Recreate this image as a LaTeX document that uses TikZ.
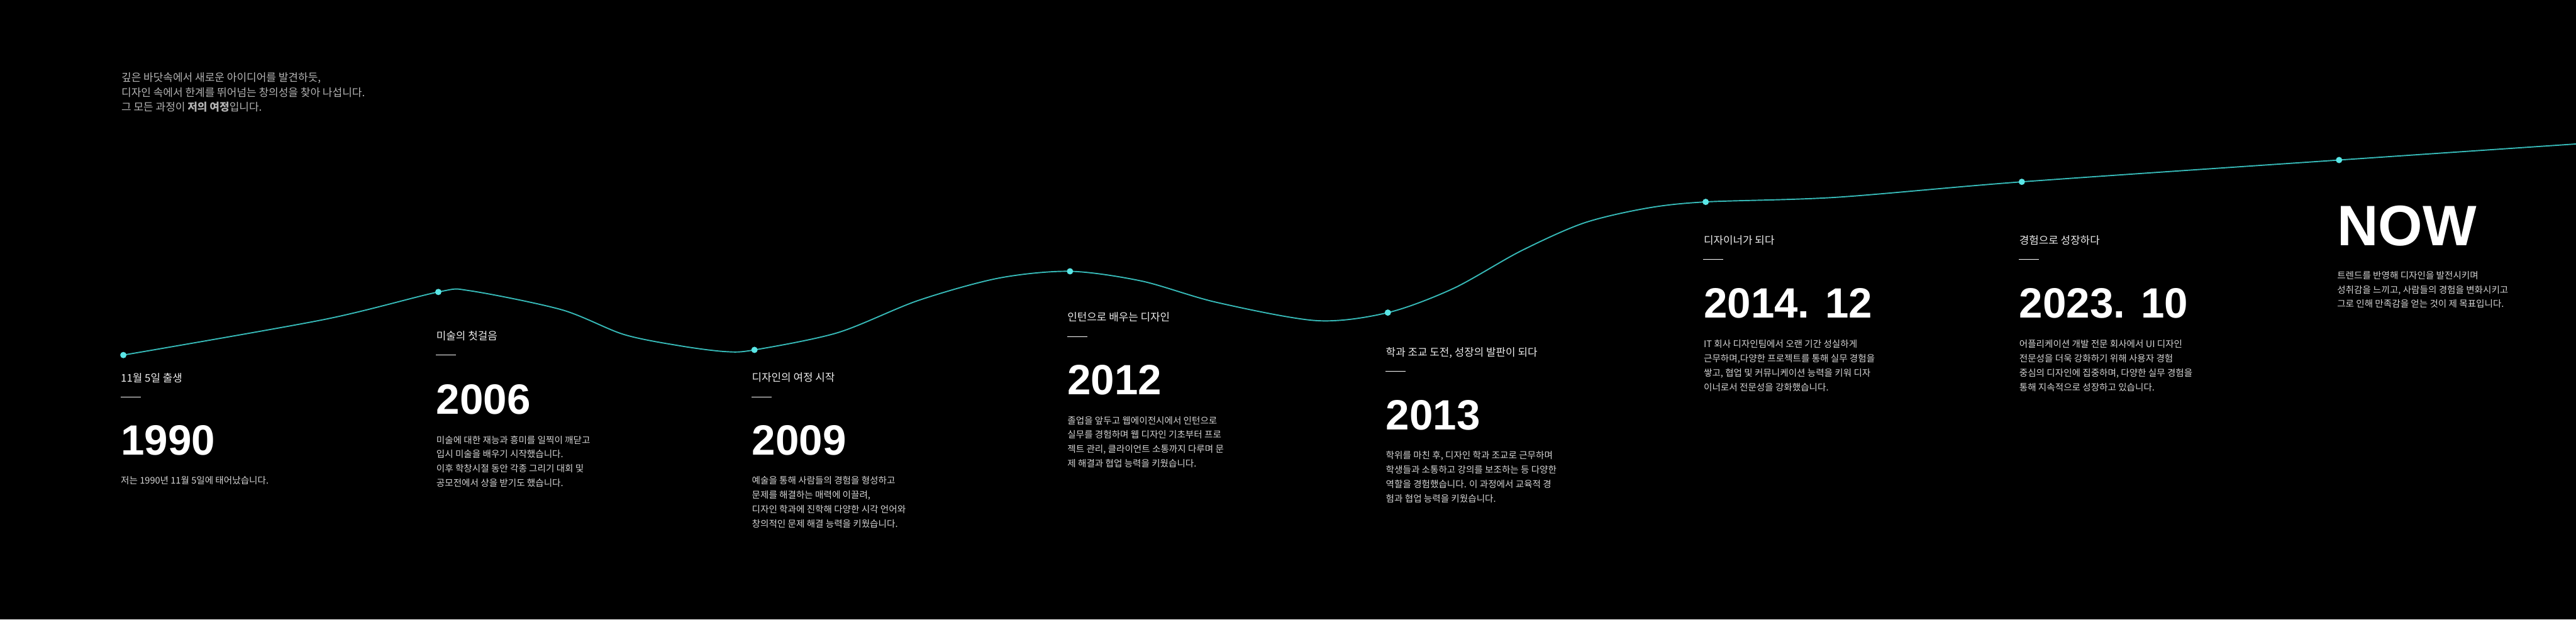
\documentclass[tikz,border=0pt]{standalone}
\usepackage{fontspec}
\setmainfont{Noto Sans CJK KR}
\newfontfamily\yearfamily{Liberation Sans}
\usepackage{tikz}
\definecolor{NightBlack}{HTML}{000000}
\definecolor{TrailTeal}{HTML}{36B8B6}
\definecolor{PinCyan}{HTML}{5AE6E6}
\definecolor{HeadGray}{HTML}{B4B4B4}
\definecolor{StoryGray}{HTML}{D6D6D6}
\definecolor{CaptionWhite}{HTML}{EDEDED}

\begin{document}
\begin{tikzpicture}[
  milestone/.style={
    circle,
    fill=PinCyan,
    inner sep=0pt,
    minimum size=0.11cm
  },
  intro/.style={
    anchor=base west,
    inner sep=0pt,
    align=left,
    text=HeadGray,
    font=\fontsize{5.3}{7.4}\selectfont
  },
  caption/.style={
    anchor=base west,
    inner sep=0pt,
    text=CaptionWhite,
    font=\fontsize{5.26}{6.5}\selectfont
  },
  year/.style={
    anchor=base west,
    inner sep=0pt,
    text=white,
    font=\fontsize{21}{25}\yearfamily\bfseries
  },
  bignow/.style={year,font=\fontsize{28.3}{34}\yearfamily\bfseries},
  story/.style={
    anchor=base west,
    inner sep=0pt,
    align=left,
    text=StoryGray,
    font=\fontsize{4.55}{7.11}\selectfont
  },
  tickline/.style={draw=white,line width=0.4pt},
  trail/.style={draw=TrailTeal,line width=0.6pt}
]

\fill[NightBlack] (0,0) rectangle (44.90,10.80);
\useasboundingbox (0,0) rectangle (44.90,10.80);

\coordinate (p1990) at (2.15,4.61);
\coordinate (p2006) at (7.64,5.71);
\coordinate (p2009) at (13.15,4.70);
\coordinate (p2012) at (18.65,6.07);
\coordinate (p2013) at (24.19,5.35);
\coordinate (p2014) at (29.73,7.28);
\coordinate (p2023) at (35.24,7.63);
\coordinate (pnow) at (40.77,8.01);
\coordinate (tailend) at (44.90,8.29);

\draw[trail] plot[smooth,tension=0.5] coordinates {
  (p1990) (5.65,5.23) (p2006) (8.20,5.73) (9.79,5.40)
  (10.87,4.97) (11.86,4.77) (12.65,4.67) (p2009)
  (14.60,5.00) (16.00,5.56) (17.40,5.95) (p2012)
  (19.90,5.90) (21.20,5.53) (22.95,5.21) (p2013)
  (25.33,5.77) (26.50,6.42) (27.60,6.91) (28.70,7.17) (p2014)
  (32.00,7.36) (p2023) (pnow) (tailend)
};

\node[milestone] (m1990) at (p1990) {};
\node[milestone] (m2006) at (p2006) {};
\node[milestone] (m2009) at (p2009) {};
\node[milestone] (m2012) at (p2012) {};
\node[milestone] (m2013) at (p2013) {};
\node[milestone] (m2014) at (p2014) {};
\node[milestone] (m2023) at (p2023) {};
\node[milestone] (mnow) at (pnow) {};

\node[intro] (intro) at (2.11,8.86)
  {깊은 바닷속에서 새로운 아이디어를 발견하듯,\\
   디자인 속에서 한계를 뛰어넘는 창의성을 찾아 나섭니다.\\
   그 모든 과정이 {\bfseries 저의 여정}입니다.};

\node[caption] (c1990) at (2.10,4.14) {11월 5일 출생};
\draw[tickline] (2.10,3.88) -- ++(0.35,0);
\node[year] (y1990) at (2.10,2.87) {1990};
\node[story] (s1990) at (2.10,2.36) {저는 1990년 11월 5일에 태어났습니다.};

\node[caption] (c2006) at (7.60,4.87) {미술의 첫걸음};
\draw[tickline] (7.60,4.61) -- ++(0.35,0);
\node[year] (y2006) at (7.60,3.58) {2006};
\node[story] (s2006) at (7.60,2.32)
  {미술에 대한 재능과 흥미를 일찍이 깨닫고\\
   입시 미술을 배우기 시작했습니다.\\
   이후 학창시절 동안 각종 그리기 대회 및\\
   공모전에서 상을 받기도 했습니다.};

\node[caption] (c2009) at (13.10,4.15) {디자인의 여정 시작};
\draw[tickline] (13.10,3.88) -- ++(0.35,0);
\node[year] (y2009) at (13.10,2.87) {2009};
\node[story] (s2009) at (13.10,1.61)
  {예술을 통해 사람들의 경험을 형성하고\\
   문제를 해결하는 매력에 이끌려,\\
   디자인 학과에 진학해 다양한 시각 언어와\\
   창의적인 문제 해결 능력을 키웠습니다.};

\node[caption] (c2012) at (18.60,5.20) {인턴으로 배우는 디자인};
\draw[tickline] (18.60,4.93) -- ++(0.35,0);
\node[year] (y2012) at (18.60,3.92) {2012};
\node[story] (s2012) at (18.60,2.66)
  {졸업을 앞두고 웹에이전시에서 인턴으로\\
   실무를 경험하며 웹 디자인 기초부터 프로\\
   젝트 관리, 클라이언트 소통까지 다루며 문\\
   제 해결과 협업 능력을 키웠습니다.};

\node[caption] (c2013) at (24.15,4.59) {학과 조교 도전, 성장의 발판이 되다};
\draw[tickline] (24.15,4.33) -- ++(0.35,0);
\node[year] (y2013) at (24.15,3.31) {2013};
\node[story] (s2013) at (24.15,2.05)
  {학위를 마친 후, 디자인 학과 조교로 근무하며\\
   학생들과 소통하고 강의를 보조하는 등 다양한\\
   역할을 경험했습니다. 이 과정에서 교육적 경\\
   험과 협업 능력을 키웠습니다.};

\node[caption] (c2014) at (29.69,6.54) {디자이너가 되다};
\draw[tickline] (29.69,6.28) -- ++(0.35,0);
\node[year] (y2014) at (29.69,5.26) {2014. 12};
\node[story] (s2014) at (29.69,3.99)
  {IT 회사 디자인팀에서 오랜 기간 성실하게\\
   근무하며,다양한 프로젝트를 통해 실무 경험을\\
   쌓고, 협업 및 커뮤니케이션 능력을 키워 디자\\
   이너로서 전문성을 강화했습니다.};

\node[caption] (c2023) at (35.19,6.54) {경험으로 성장하다};
\draw[tickline] (35.19,6.28) -- ++(0.35,0);
\node[year] (y2023) at (35.19,5.26) {2023. 10};
\node[story] (s2023) at (35.19,3.99)
  {어플리케이션 개발 전문 회사에서 UI 디자인\\
   전문성을 더욱 강화하기 위해 사용자 경험\\
   중심의 디자인에 집중하며, 다양한 실무 경험을\\
   통해 지속적으로 성장하고 있습니다.};

\node[bignow] (ynow) at (40.73,6.52) {NOW};
\node[story] (snow) at (40.73,5.44)
  {트렌드를 반영해 디자인을 발전시키며\\
   성취감을 느끼고, 사람들의 경험을 변화시키고\\
   그로 인해 만족감을 얻는 것이 제 목표입니다.};
\end{tikzpicture}
\end{document}
